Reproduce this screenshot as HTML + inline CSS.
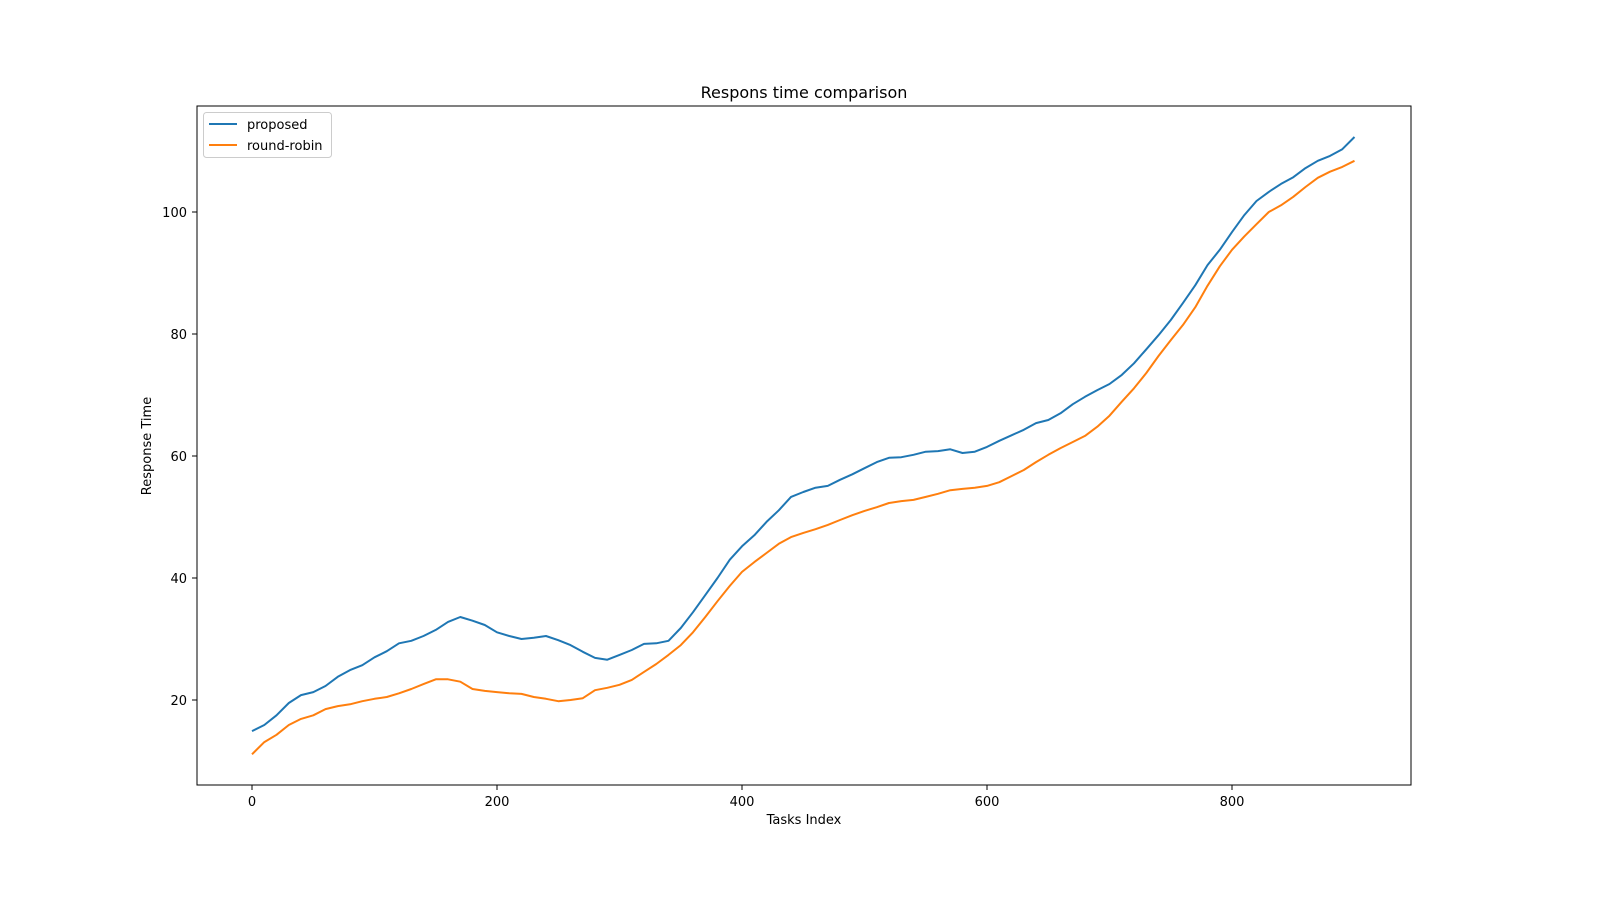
<!DOCTYPE html>
<html><head><meta charset="utf-8"><style>
body{margin:0;background:#fff;}
svg{display:block;font-family:"DejaVu Sans","Liberation Sans",sans-serif;}
</style></head><body>
<svg id="chart" width="1600" height="900" viewBox="0 0 1600 900">
<rect x="0" y="0" width="1600" height="900" fill="#fff"/>
<text x="804" y="98" font-size="16" text-anchor="middle">Respons time comparison</text>
<text x="804" y="824" font-size="13" text-anchor="middle">Tasks Index</text>
<text transform="translate(151,446) rotate(-90)" font-size="13" text-anchor="middle">Response Time</text>
<g id="ticks"></g>
<g id="series"></g>
<rect x="197" y="106" width="1214" height="679" fill="none" stroke="#000" stroke-width="1"/>
<g>
<rect x="203.5" y="112.5" width="128" height="45" rx="3" fill="#fff" fill-opacity="0.8" stroke="#ccc"/>
<line x1="209" y1="124" x2="237" y2="124" stroke="#1f77b4" stroke-width="2"/>
<text x="247" y="129" font-size="13">proposed</text>
<line x1="209" y1="145" x2="237" y2="145" stroke="#ff7f0e" stroke-width="2"/>
<text x="247" y="150" font-size="13">round-robin</text>
</g>
</svg>
<script>
const xIndex = [0,10,20,30,40,50,60,70,80,90,100,110,120,130,140,150,160,170,180,190,200,210,220,230,240,250,260,270,280,290,300,310,320,330,340,350,360,370,380,390,400,410,420,430,440,450,460,470,480,490,500,510,520,530,540,550,560,570,580,590,600,610,620,630,640,650,660,670,680,690,700,710,720,730,740,750,760,770,780,790,800,810,820,830,840,850,860,870,880,890,900];
const proposed = [14.9,15.9,17.5,19.5,20.8,21.3,22.3,23.8,24.9,25.7,27.0,28.0,29.3,29.7,30.5,31.5,32.8,33.6,33.0,32.3,31.1,30.5,30.0,30.2,30.5,29.8,29.0,27.9,26.9,26.6,27.4,28.2,29.2,29.3,29.7,31.8,34.4,37.2,40.0,43.0,45.2,47.0,49.2,51.1,53.3,54.1,54.8,55.1,56.1,57.0,58.0,59.0,59.7,59.8,60.2,60.7,60.8,61.1,60.5,60.7,61.5,62.5,63.4,64.3,65.4,65.9,67.0,68.5,69.7,70.8,71.8,73.3,75.2,77.5,79.8,82.3,85.1,88.0,91.3,93.8,96.7,99.5,101.8,103.3,104.6,105.7,107.2,108.4,109.2,110.3,112.3];
const roundRobin = [11.1,13.1,14.3,15.9,16.9,17.5,18.5,19.0,19.3,19.8,20.2,20.5,21.1,21.8,22.6,23.4,23.4,23.0,21.8,21.5,21.3,21.1,21.0,20.5,20.2,19.8,20.0,20.3,21.6,22.0,22.5,23.3,24.6,25.9,27.4,29.0,31.1,33.6,36.2,38.7,41.0,42.6,44.1,45.6,46.7,47.4,48.0,48.7,49.5,50.3,51.0,51.6,52.3,52.6,52.8,53.3,53.8,54.4,54.6,54.8,55.1,55.7,56.7,57.7,59.0,60.2,61.3,62.3,63.3,64.8,66.6,68.9,71.1,73.6,76.4,79.0,81.5,84.4,87.9,91.1,93.8,96.0,98.0,100.0,101.1,102.5,104.1,105.6,106.6,107.4,108.4];
const xTicks = [0,200,400,600,800];
const yTicks = [20,40,60,80,100];

const NS="http://www.w3.org/2000/svg";
const sx = v => 252 + v*1.225;
const sy = v => 822 - v*6.1;
const tg = document.getElementById('ticks');
xTicks.forEach(t=>{
  const l=document.createElementNS(NS,'line');
  l.setAttribute('x1',sx(t));l.setAttribute('x2',sx(t));l.setAttribute('y1',785);l.setAttribute('y2',790);l.setAttribute('stroke','#000');
  
  
  tg.appendChild(l);
  const tx=document.createElementNS(NS,'text');
  tx.setAttribute('x',sx(t));tx.setAttribute('y',806);tx.setAttribute('font-size','13');tx.setAttribute('text-anchor','middle');
  tx.textContent=t;
  
  
  tg.appendChild(tx);
});
yTicks.forEach(t=>{
  const l=document.createElementNS(NS,'line');
  l.setAttribute('x1',192);l.setAttribute('x2',197);l.setAttribute('y1',sy(t));l.setAttribute('y2',sy(t));l.setAttribute('stroke','#000');
  
  
  tg.appendChild(l);
  const tx=document.createElementNS(NS,'text');
  tx.setAttribute('x',187);tx.setAttribute('y',sy(t)+5);tx.setAttribute('font-size','13');tx.setAttribute('text-anchor','end');
  tx.textContent=t;
  
  
  tg.appendChild(tx);
});
const sg=document.getElementById('series');
function draw(vals,color,name){
  const p=document.createElementNS(NS,'polyline');
  p.setAttribute('points',vals.map((v,i)=>sx(xIndex[i]).toFixed(1)+','+sy(v).toFixed(1)).join(' '));
  p.setAttribute('fill','none');p.setAttribute('stroke',color);p.setAttribute('stroke-width','2');p.setAttribute('stroke-linejoin','round');
  
  
  sg.appendChild(p);
}
draw(proposed,'#1f77b4','line-proposed');
draw(roundRobin,'#ff7f0e','line-round-robin');
</script>
</body></html>
